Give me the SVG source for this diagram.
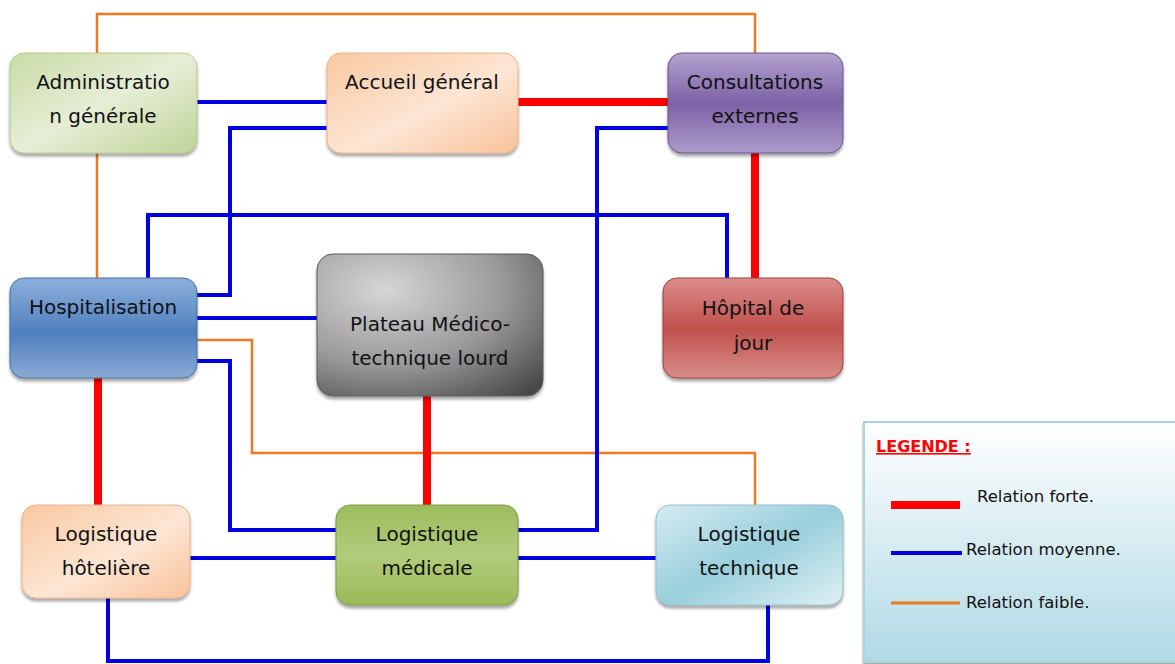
<svg xmlns="http://www.w3.org/2000/svg" width="1175" height="664" viewBox="0 0 1175 664">
  <style>
    .lbl { font-family: "DejaVu Sans", "Liberation Sans", sans-serif; font-size: 20px; fill: #111; text-anchor: middle; }
    .leg { font-family: "DejaVu Sans", "Liberation Sans", sans-serif; font-size: 16.5px; fill: #111; }
    .box { filter: url(#shadow); }
    .strong { fill: none; stroke: #ff0000; stroke-width: 8; }
    .medium { fill: none; stroke: #0000e0; stroke-width: 4; }
    .weak { fill: none; stroke: #f07820; stroke-width: 2.5; }
  </style>
  <defs>
    <filter id="shadow" x="-10%" y="-10%" width="120%" height="130%">
      <feDropShadow dx="0" dy="3" stdDeviation="1.5" flood-color="#000" flood-opacity="0.35"/>
    </filter>
    <linearGradient id="gAdmin" x1="0" y1="0" x2="1" y2="1">
      <stop offset="0" stop-color="#c9dba6"/>
      <stop offset="0.5" stop-color="#e6eed6"/>
      <stop offset="1" stop-color="#bfd397"/>
    </linearGradient>
    <linearGradient id="gPeach" x1="0" y1="0" x2="1" y2="1">
      <stop offset="0" stop-color="#f9c8a0"/>
      <stop offset="0.55" stop-color="#fde6d4"/>
      <stop offset="1" stop-color="#f8c29a"/>
    </linearGradient>
    <linearGradient id="gPurple" x1="0" y1="0" x2="0" y2="1">
      <stop offset="0" stop-color="#b3a2cf"/>
      <stop offset="0.5" stop-color="#7c62a6"/>
      <stop offset="1" stop-color="#ad9bcb"/>
    </linearGradient>
    <linearGradient id="gBlue" x1="0" y1="0" x2="0" y2="1">
      <stop offset="0" stop-color="#8db0dc"/>
      <stop offset="0.55" stop-color="#4f7fbe"/>
      <stop offset="1" stop-color="#8aaad4"/>
    </linearGradient>
    <radialGradient id="gGrey" cx="0.3" cy="0.25" r="0.95">
      <stop offset="0" stop-color="#d6d6d6"/>
      <stop offset="0.55" stop-color="#9a9a9a"/>
      <stop offset="1" stop-color="#4a4a4a"/>
    </radialGradient>
    <linearGradient id="gRed" x1="0" y1="0" x2="0" y2="1">
      <stop offset="0" stop-color="#dc8e8c"/>
      <stop offset="0.5" stop-color="#c0504d"/>
      <stop offset="1" stop-color="#d88c8a"/>
    </linearGradient>
    <linearGradient id="gGreen" x1="0" y1="0" x2="0" y2="1">
      <stop offset="0" stop-color="#9cbc5c"/>
      <stop offset="0.5" stop-color="#b2cc7c"/>
      <stop offset="1" stop-color="#9aba58"/>
    </linearGradient>
    <linearGradient id="gCyan" x1="0" y1="0" x2="1" y2="1">
      <stop offset="0" stop-color="#d6ecf2"/>
      <stop offset="0.5" stop-color="#99cfdc"/>
      <stop offset="1" stop-color="#dff0f4"/>
    </linearGradient>
    <linearGradient id="gLegend" x1="0" y1="0" x2="0" y2="1">
      <stop offset="0" stop-color="#ffffff"/>
      <stop offset="1" stop-color="#b0d9e5"/>
    </linearGradient>
  </defs>

  <!-- connectors -->
  <g id="connectors">
    <!-- weak relations -->
    <path class="weak" d="M97,53 V14 H755 V53"/>
    <path class="weak" d="M97,153 V278"/>
    <path class="weak" d="M197,340 H252 V453 H755 V505"/>
    <!-- medium relations -->
    <path class="medium" d="M197,102 H327"/>
    <path class="medium" d="M327,128 H230 V295 H197"/>
    <path class="medium" d="M148,278 V215 H727 V278"/>
    <path class="medium" d="M197,318 H317"/>
    <path class="medium" d="M197,361 H230 V530 H336"/>
    <path class="medium" d="M668,128 H597 V530 H518"/>
    <path class="medium" d="M190,558 H336"/>
    <path class="medium" d="M518,558 H656"/>
    <path class="medium" d="M108,598 V661 H768 V605"/>
    <!-- strong relations -->
    <path class="strong" d="M518,102 H668"/>
    <path class="strong" d="M755,153 V278"/>
    <path class="strong" d="M98,378 V505"/>
    <path class="strong" d="M427,396 V505"/>
  </g>

  <g id="admin">
    <rect class="box" x="10" y="53" width="187" height="100" rx="14" fill="url(#gAdmin)" stroke="#b5c98f" stroke-width="1"/>
    <text class="lbl" x="103" y="89">Administratio</text>
    <text class="lbl" x="103" y="123">n générale</text>
  </g>
  <g id="accueil">
    <rect class="box" x="327" y="53" width="191" height="100" rx="14" fill="url(#gPeach)" stroke="#e9b48e" stroke-width="1"/>
    <text class="lbl" x="422" y="89">Accueil général</text>
  </g>
  <g id="consultations">
    <rect class="box" x="668" y="53" width="175" height="100" rx="14" fill="url(#gPurple)" stroke="#6a5294" stroke-width="1"/>
    <text class="lbl" x="755" y="89">Consultations</text>
    <text class="lbl" x="755" y="123">externes</text>
  </g>
  <g id="hospitalisation">
    <rect class="box" x="10" y="278" width="187" height="100" rx="14" fill="url(#gBlue)" stroke="#46719f" stroke-width="1"/>
    <text class="lbl" x="103" y="314">Hospitalisation</text>
  </g>
  <g id="plateau">
    <rect class="box" x="317" y="254" width="226" height="142" rx="16" fill="url(#gGrey)" stroke="#5a5a5a" stroke-width="1"/>
    <text class="lbl" x="430" y="331">Plateau Médico-</text>
    <text class="lbl" x="430" y="365">technique lourd</text>
  </g>
  <g id="hopital-jour">
    <rect class="box" x="663" y="278" width="180" height="100" rx="14" fill="url(#gRed)" stroke="#9c3f3c" stroke-width="1"/>
    <text class="lbl" x="753" y="315">Hôpital de</text>
    <text class="lbl" x="753" y="350">jour</text>
  </g>
  <g id="log-hoteliere">
    <rect class="box" x="22" y="505" width="168" height="93" rx="14" fill="url(#gPeach)" stroke="#e9b48e" stroke-width="1"/>
    <text class="lbl" x="106" y="541">Logistique</text>
    <text class="lbl" x="106" y="575">hôtelière</text>
  </g>
  <g id="log-medicale">
    <rect class="box" x="336" y="505" width="182" height="100" rx="14" fill="url(#gGreen)" stroke="#7f9c45" stroke-width="1"/>
    <text class="lbl" x="427" y="541">Logistique</text>
    <text class="lbl" x="427" y="575">médicale</text>
  </g>
  <g id="log-technique">
    <rect class="box" x="656" y="505" width="187" height="100" rx="14" fill="url(#gCyan)" stroke="#8fbfcc" stroke-width="1"/>
    <text class="lbl" x="749" y="541">Logistique</text>
    <text class="lbl" x="749" y="575">technique</text>
  </g>

  <!-- legend -->
  <g id="legend">
    <rect x="864" y="422" width="320" height="240" fill="url(#gLegend)" stroke="#a8d3df" stroke-width="2" filter="url(#shadow)"/>
    <text x="876" y="452" font-family="DejaVu Sans, Liberation Sans, sans-serif" font-size="16" font-weight="bold" fill="#ff0000" text-decoration="underline">LEGENDE :</text>
    <line x1="891" y1="505" x2="960" y2="505" stroke="#ff0000" stroke-width="8"/>
    <text class="leg" x="977" y="502">Relation forte.</text>
    <line x1="891" y1="553" x2="962" y2="553" stroke="#0000e0" stroke-width="4"/>
    <text class="leg" x="966" y="555">Relation moyenne.</text>
    <line x1="891" y1="603" x2="960" y2="603" stroke="#f07820" stroke-width="3"/>
    <text class="leg" x="966" y="608">Relation faible.</text>
  </g>
</svg>
